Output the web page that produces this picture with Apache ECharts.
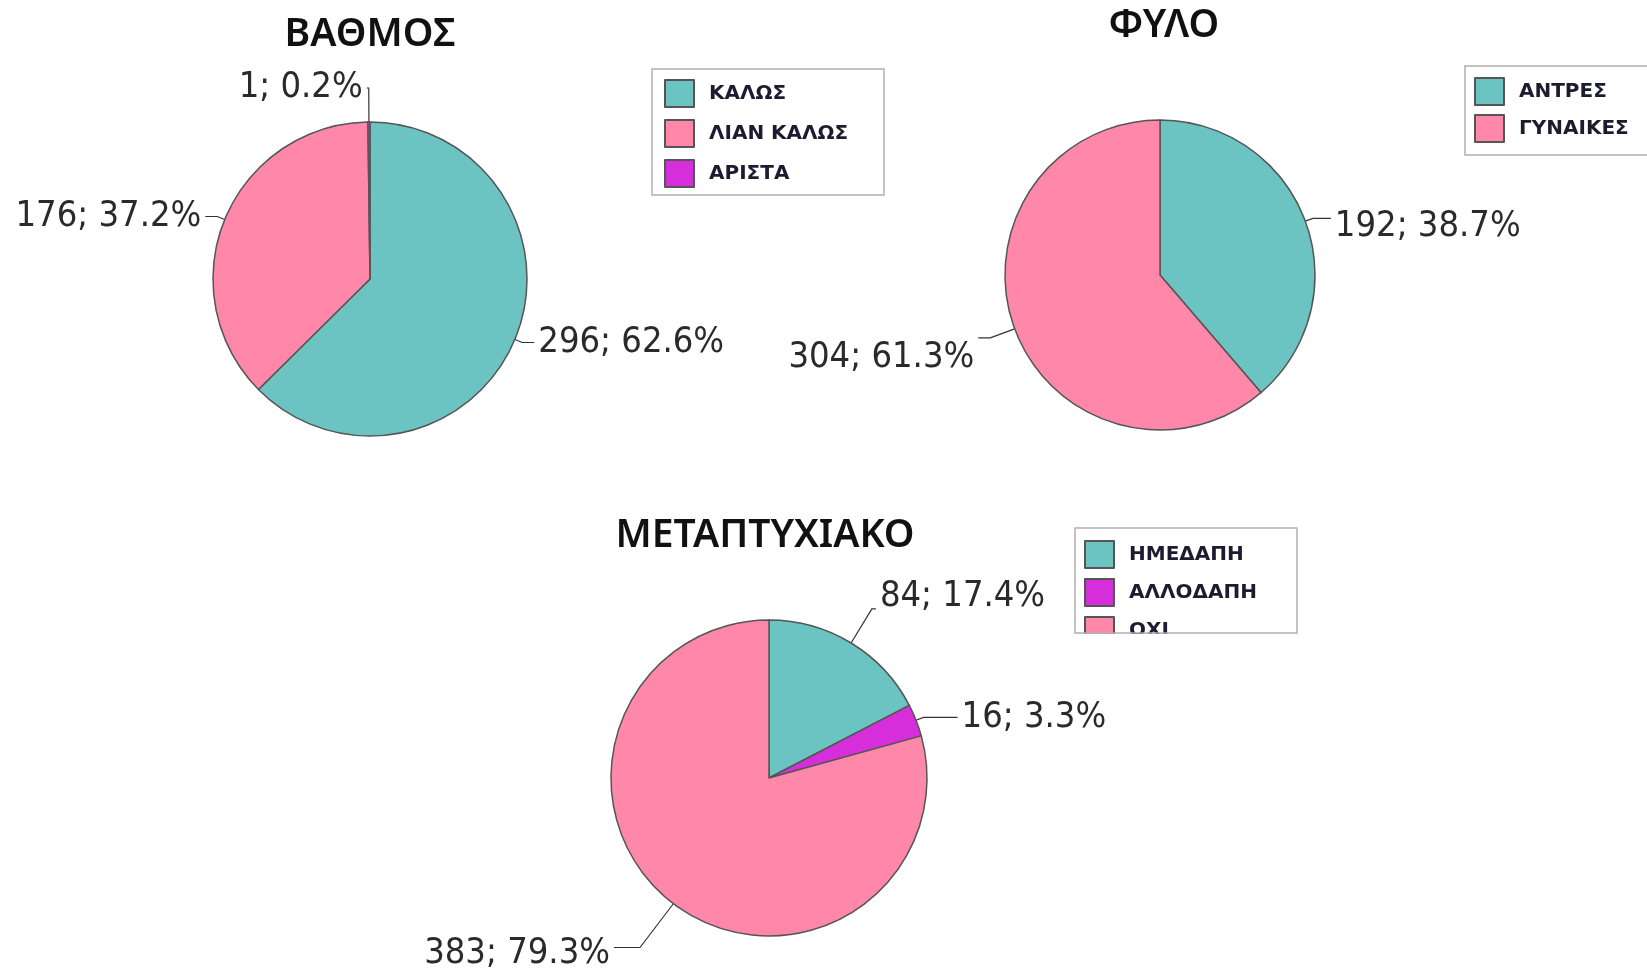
<!DOCTYPE html>
<html>
<head>
<meta charset="utf-8">
<script src="https://cdn.jsdelivr.net/npm/echarts@6/dist/echarts.min.js"></script>
<style>
  html, body { margin: 0; padding: 0; background: #fff; }
  #pites { width: 1647px; height: 971px; }
</style>
</head>
<body>
<div id="pites"></div>
<script>
// ---- data ----
const vathmosNames = ['ΚΑΛΩΣ', 'ΛΙΑΝ ΚΑΛΩΣ', 'ΑΡΙΣΤΑ'];
const vathmosValues = [296, 176, 1];

const fyloNames = ['ΑΝΤΡΕΣ', 'ΓΥΝΑΙΚΕΣ'];
const fyloValues = [192, 304];

const metaNames = ['ΗΜΕΔΑΠΗ', 'ΑΛΛΟΔΑΠΗ', 'ΟΧΙ'];
const metaValues = [84, 16, 383];

const titles = ['ΒΑΘΜΟΣ', 'ΦΥΛΟ', 'ΜΕΤΑΠΤΥΧΙΑΚΟ'];

// colours
const TEAL = '#6bc4c2';
const PINK = '#ff88aa';
const MAGENTA = '#d72edc';

const labelFont = "'Liberation Sans Narrow', 'DejaVu Sans Condensed', sans-serif";
const legendFont = "'DejaVu Sans', sans-serif";

// measure legend text so that the box gets the right width
function textW(txt, size) {
  const c = document.createElement('canvas').getContext('2d');
  c.font = 'bold ' + size + 'px ' + legendFont;
  return c.measureText(txt).width;
}
function rightPad(names, boxW, leftPad) {
  let w = 0;
  names.forEach(n => { w = Math.max(w, textW(n, 20)); });
  return Math.max(4, boxW - leftPad - 29 - 5 - 10 - w);
}

function buildData(names, values, colors, lines) {
  return names.map((n, i) => {
    const d = { name: n, value: values[i], itemStyle: { color: colors[i] } };
    if (lines && lines[i]) d.labelLine = lines[i];
    return d;
  });
}

// small vertical nudges of the labels, per slice
function nudge(shifts) {
  return function (p) {
    const s = shifts[p.dataIndex];
    return s ? { dy: s } : {};
  };
}

const myChart = echarts.init(document.getElementById('pites'));

const commonSeries = {
  type: 'pie',
  startAngle: 90,
  clockwise: true,
  percentPrecision: 1,
  avoidLabelOverlap: false,
  itemStyle: { borderColor: '#555', borderWidth: 1.5 },
  label: {
    show: true,
    position: 'outside',
    formatter: '{c}; {d}%',
    fontFamily: labelFont,
    fontSize: 36,
    color: '#2a2a2a',
    distanceToLabelLine: 4
  },
  labelLine: {
    show: true,
    length: 8,
    length2: 12,
    lineStyle: { color: '#333', width: 1.2 }
  },
  emphasis: { disabled: true }
};

const legendCommon = {
  orient: 'vertical',
  icon: 'rect',
  itemWidth: 29,
  itemHeight: 27,
  borderColor: '#b0b0b0',
  borderWidth: 1.5,
  selectedMode: false,
  textStyle: {
    fontFamily: legendFont,
    fontWeight: 'bold',
    fontSize: 20,
    color: '#1c1c30',
    padding: [0, 0, 0, 10]
  }
};

const titleStyle = {
  fontFamily: "'Noto Sans', sans-serif",
  fontWeight: 600,
  fontSize: 39,
  color: '#111'
};

myChart.setOption({
  animation: false,
  backgroundColor: '#fff',
  title: [
    { text: titles[0], left: 370, top: 15, textAlign: 'center', padding: 0, textStyle: titleStyle },
    { text: titles[1], left: 1164, top: 6, textAlign: 'center', padding: 0, textStyle: titleStyle },
    { text: titles[2], left: 765, top: 516, textAlign: 'center', padding: 0, textStyle: titleStyle }
  ],
  legend: [
    Object.assign({}, legendCommon, {
      data: vathmosNames,
      left: 652, top: 69,
      itemGap: 11,
      padding: [10, rightPad(vathmosNames, 231, 12), 7, 12]
    }),
    Object.assign({}, legendCommon, {
      data: fyloNames,
      left: 1465, top: 66,
      itemGap: 8,
      padding: [11, 80, 12, 9]
    }),
    Object.assign({}, legendCommon, {
      data: metaNames,
      left: 1075, top: 528,
      itemGap: 9,
      borderWidth: 0,
      padding: [12, rightPad(metaNames, 222, 9), 12, 9]
    })
  ],
  graphic: [
    // third legend box is cut at its bottom edge, as in the original
    { type: 'rect', z: 100, shape: { x: 1070, y: 634, width: 240, height: 30 }, style: { fill: '#fff' } },
    { type: 'rect', z: 101, shape: { x: 1075, y: 528, width: 222, height: 105 }, style: { fill: null, stroke: '#b0b0b0', lineWidth: 1.5 } }
  ],
  series: [
    Object.assign({}, commonSeries, {
      name: titles[0],
      center: [370, 279],
      radius: 157,
      data: buildData(vathmosNames, vathmosValues, [TEAL, PINK, MAGENTA],
        [null, null, { length: 34, length2: 2 }])
    }),
    Object.assign({}, commonSeries, {
      name: titles[1],
      center: [1160, 275],
      radius: 155,
      labelLayout: nudge([8, 20]),
      data: buildData(fyloNames, fyloValues, [TEAL, PINK],
        [{ length: 8, length2: 18 }, { length: 26, length2: 12 }])
    }),
    Object.assign({}, commonSeries, {
      name: titles[2],
      center: [769, 778],
      radius: 158,
      labelLayout: nudge([-12, 0, 6]),
      data: buildData(metaNames, metaValues, [TEAL, MAGENTA, PINK],
        [{ length: 40, length2: 4 }, { length: 8, length2: 34 }, { length: 55, length2: 26 }])
    })
  ]
});
</script>
</body>
</html>
